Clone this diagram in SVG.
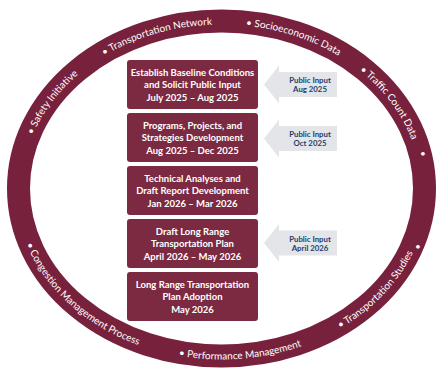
<svg xmlns="http://www.w3.org/2000/svg" width="437" height="369" viewBox="0 0 437 369">
<style>
.ring{fill:none;stroke:#78213d;stroke-width:23}
.rt{font-family:Lato,"Liberation Sans",sans-serif;font-size:10px;fill:#ffffff}
.box{fill:#7c2a41}
.bt{font-family:Lato,"Liberation Sans",sans-serif;font-size:9.5px;font-weight:bold;fill:#ffffff;text-anchor:middle}
.arr{fill:#e3e5e8}
.at{font-family:Lato,"Liberation Sans",sans-serif;font-size:7.8px;font-weight:bold;fill:#1f3d6d;text-anchor:middle}
</style>
<defs>
<path id="p1" d="M32.9 135.1 A199.5 164 0 0 1 221.5 24.5"/>
<path id="p2" d="M104.2 55.8 A199.5 164 0 0 1 321.25 46.5"/>
<path id="p3" d="M245.8 25.7 A199.5 164 0 0 1 409 132.4"/>
<path id="p4" d="M359.5 70.5 A199.5 164 0 0 1 418 217"/>
<path id="p5" d="M26.3 244.2 A206.5 171 0 0 0 324.75 336.6"/>
<path id="p6" d="M178.6 355.8 A206.5 171 0 0 0 415.5 247"/>
<path id="p7" d="M339.9 328.6 A206.5 171 0 0 0 415.5 130"/>
</defs>
<rect width="437" height="369" fill="#ffffff"/>
<g id="ring">
<ellipse class="ring" cx="221.5" cy="188.5" rx="203" ry="167.5"/>
<text class="rt"><textPath href="#p1">• Safety Initiative</textPath></text>
<text class="rt"><textPath href="#p2">• Transportation Network</textPath></text>
<text class="rt"><textPath href="#p3">• Socioeconomic Data</textPath></text>
<text class="rt"><textPath href="#p4">• Traffic Count Data</textPath></text>
<text class="rt" x="423" y="157" text-anchor="middle">•</text>
<text class="rt"><textPath href="#p5">• Congestion Management Process</textPath></text>
<text class="rt"><textPath href="#p6">• Performance Management</textPath></text>
<text class="rt"><textPath href="#p7">• Transportation Studies</textPath></text>
<text class="rt" x="418" y="249.5" text-anchor="middle">•</text>
</g>
<g id="step1">
<rect class="box" x="127" y="60" width="131" height="49" rx="3"/>
<text class="bt" x="192.5" y="75.5">Establish Baseline Conditions</text>
<text class="bt" x="192.5" y="88">and Solicit Public Input</text>
<text class="bt" x="192.5" y="100.5">July 2025 – Aug 2025</text>
</g>
<g id="step2">
<rect class="box" x="127" y="113" width="131" height="49" rx="3"/>
<text class="bt" x="192.5" y="128.5">Programs, Projects, and</text>
<text class="bt" x="192.5" y="141">Strategies Development</text>
<text class="bt" x="192.5" y="153.5">Aug 2025 – Dec 2025</text>
</g>
<g id="step3">
<rect class="box" x="127" y="166" width="131" height="49" rx="3"/>
<text class="bt" x="192.5" y="181.5">Technical Analyses and</text>
<text class="bt" x="192.5" y="194">Draft Report Development</text>
<text class="bt" x="192.5" y="206.5">Jan 2026 – Mar 2026</text>
</g>
<g id="step4">
<rect class="box" x="127" y="219" width="131" height="49" rx="3"/>
<text class="bt" x="192.5" y="234.5">Draft Long Range</text>
<text class="bt" x="192.5" y="247">Transportation Plan</text>
<text class="bt" x="192.5" y="259.5">April 2026 – May 2026</text>
</g>
<g id="step5">
<rect class="box" x="127" y="272" width="131" height="49" rx="3"/>
<text class="bt" x="192.5" y="287.5">Long Range Transportation</text>
<text class="bt" x="192.5" y="300">Plan Adoption</text>
<text class="bt" x="192.5" y="312.5">May 2026</text>
</g>
<g id="input1">
<polygon class="arr" points="264,84.5 279,65.5 279,72 337,72 337,97 279,97 279,103.5"/>
<text class="at" x="310" y="83">Public Input</text>
<text class="at" x="310" y="92">Aug 2025</text>
</g>
<g id="input2">
<polygon class="arr" points="264,138.5 279,119.5 279,126 337,126 337,151 279,151 279,157.5"/>
<text class="at" x="310" y="137">Public Input</text>
<text class="at" x="310" y="146">Oct 2025</text>
</g>
<g id="input3">
<polygon class="arr" points="264,243 279,224 279,230.5 337,230.5 337,255.5 279,255.5 279,262"/>
<text class="at" x="310" y="241.5">Public Input</text>
<text class="at" x="310" y="250.5">April 2026</text>
</g>
</svg>
